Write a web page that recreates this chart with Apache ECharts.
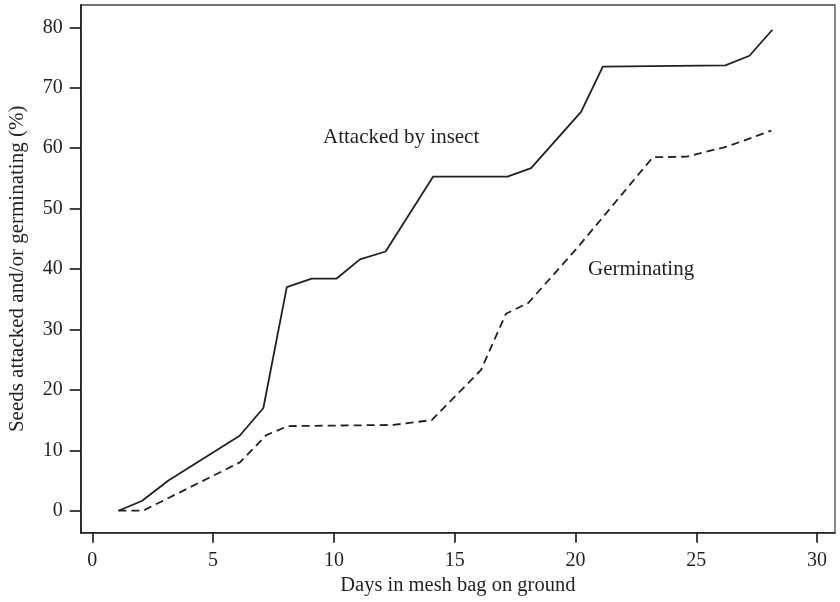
<!DOCTYPE html>
<html>
<head>
<meta charset="utf-8">
<script src="https://cdn.jsdelivr.net/npm/echarts@6/dist/echarts.min.js"></script>
<style>html,body{margin:0;padding:0;background:#fff}#c{width:840px;height:602px}</style>
</head>
<body>
<div id="c"></div>
<script>
// Attacked by insect (solid)
const attackedDays = [1.08, 2.05, 3.15, 6.1, 7.08, 8.05, 9.08, 10.1, 11.08, 12.14, 14.11, 17.18, 18.16, 20.23, 21.13, 26.2, 27.2, 28.15];
const attackedPct  = [0, 1.6, 5.0, 12.4, 17.0, 37.0, 38.4, 38.4, 41.6, 42.9, 55.3, 55.3, 56.7, 66.0, 73.5, 73.7, 75.3, 79.6];
// Germinating (dashed)
const germDays = [1.08, 2.1, 6.11, 7.2, 8.1, 12.46, 14.05, 16.09, 17.12, 18.05, 20.05, 23.2, 24.6, 26.3, 28.1];
const germPct  = [0, 0, 8.0, 12.5, 14.0, 14.2, 15.0, 23.3, 32.6, 34.4, 43.4, 58.5, 58.6, 60.3, 62.9];

const xTicks = [0, 5, 10, 15, 20, 25, 30];
const yTicks = [0, 10, 20, 30, 40, 50, 60, 70, 80];

const xTitle = 'Days in mesh bag on ground';
const yTitle = 'Seeds attacked and/or germinating (%)';
const label1 = 'Attacked by insect';
const label2 = 'Germinating';

const FONT = "'Liberation Serif', 'DejaVu Serif', serif";
const INK = '#231f20';

const chart = echarts.init(document.getElementById('c'), null, {renderer: 'canvas'});
chart.setOption({
  animation: false,
  backgroundColor: '#fff',
  grid: {left: 80.7, top: 5, right: 5, bottom: 69.3, containLabel: false, outerBoundsMode: 'none',
         show: true, borderColor: '#444', borderWidth: 1.3, backgroundColor: 'transparent'},
  xAxis: {
    type: 'value', min: -0.48, max: 30.74,
    name: xTitle, nameLocation: 'middle', nameGap: 42,
    nameTextStyle: {fontFamily: FONT, fontSize: 20.5, color: INK},
    axisLine: {show: true, onZero: false, lineStyle: {color: INK, width: 1.7}},
    axisTick: {show: true, inside: false, length: 10, customValues: xTicks, lineStyle: {color: INK, width: 1.7}},
    axisLabel: {customValues: xTicks, margin: 18, fontFamily: FONT, fontSize: 20, color: INK},
    splitLine: {show: false}
  },
  yAxis: {
    type: 'value', min: -3.64, max: 83.7,
    name: yTitle, nameLocation: 'middle', nameGap: 53,
    nameTextStyle: {fontFamily: FONT, fontSize: 21, color: INK},
    axisLine: {show: true, onZero: false, lineStyle: {color: INK, width: 1.7}},
    axisTick: {show: true, inside: false, length: 11, customValues: yTicks, lineStyle: {color: INK, width: 1.7}},
    axisLabel: {customValues: yTicks, margin: 18, fontFamily: FONT, fontSize: 20, color: INK},
    splitLine: {show: false}
  },
  series: [
    {
      type: 'line', name: label1, symbol: 'none',
      data: attackedDays.map((d, i) => [d, attackedPct[i]]),
      lineStyle: {color: INK, width: 1.8, type: 'solid'}
    },
    {
      type: 'line', name: label2, symbol: 'none',
      data: germDays.map((d, i) => [d, germPct[i]]),
      lineStyle: {color: INK, width: 1.8, type: [8, 5]}
    }
  ],
  graphic: [
    {type: 'text', x: 323, y: 137, style: {text: label1, font: "21px " + FONT, fill: INK, verticalAlign: 'middle'}},
    {type: 'text', x: 588, y: 269, style: {text: label2, font: "21px " + FONT, fill: INK, verticalAlign: 'middle'}}
  ]
});
</script>
</body>
</html>
